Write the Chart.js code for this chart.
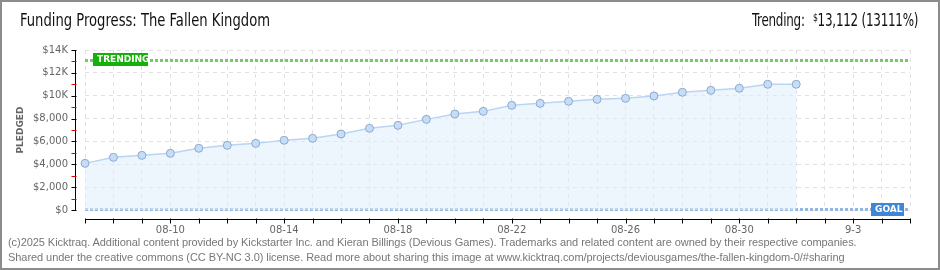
<!DOCTYPE html>
<html>
<head>
<meta charset="utf-8">
<script src="https://cdn.jsdelivr.net/npm/chart.js@4.4.1/dist/chart.umd.min.js"></script>
<style>
  html, body { margin: 0; padding: 0; background: #fff; }
  #wrap { position: relative; width: 940px; height: 270px; overflow: hidden; }
  #frame { position: absolute; left: 0; top: 0; width: 936px; height: 266px; border: 2px solid #8c8c8c; pointer-events: none; }
  canvas { position: absolute; left: 0; top: 0; }
  .hdr { position: absolute; top: 10px; font-family: "DejaVu Sans Condensed", sans-serif; font-size: 17px; font-weight: 300; color: #111; white-space: nowrap; }
  #title { left: 20px; transform: scaleX(0.86); transform-origin: left top; }
  #trend { right: 22px; transform: scaleX(0.78); transform-origin: right top; letter-spacing: -0.3px; }
  #trend sup { font-size: 11px; vertical-align: 5px; margin-left: 6px; }
  .foot { position: absolute; left: 8px; font-family: "Liberation Sans", sans-serif; font-size: 11px; letter-spacing: -0.06px; color: #777; white-space: nowrap; }
</style>
</head>
<body>
<div id="wrap">
  <canvas id="fundingChart" width="940" height="270"></canvas>
  <div class="hdr" id="title">Funding Progress: The Fallen Kingdom</div>
  <div class="hdr" id="trend">Trending: <sup>$</sup>13,112 (13111%)</div>
  <div class="foot" style="top:236px">(c)2025 Kicktraq. Additional content provided by Kickstarter Inc. and Kieran Billings (Devious Games). Trademarks and related content are owned by their respective companies.</div>
  <div class="foot" style="top:251px">Shared under the creative commons (CC BY-NC 3.0) license. Read more about sharing this image at www.kicktraq.com/projects/deviousgames/the-fallen-kingdom-0/#sharing</div>
  <div id="frame"></div>
</div>
<script>
const days = ['08-07', '08-08', '08-09', '08-10', '08-11', '08-12', '08-13', '08-14', '08-15', '08-16',
              '08-17', '08-18', '08-19', '08-20', '08-21', '08-22', '08-23', '08-24', '08-25', '08-26',
              '08-27', '08-28', '08-29', '08-30', '08-31', '09-01', '09-02', '09-03', '09-04', '09-05'];
const pledged = [4080, 4610, 4780, 4960, 5400, 5660, 5830, 6100, 6270, 6650,
                 7150, 7410, 7930, 8400, 8630, 9160, 9330, 9510, 9680, 9770,
                 9980, 10300, 10470, 10650, 11000, 11000];
const tickDays = ['08-10', '08-14', '08-18', '08-22', '08-26', '08-30', '09-03'];
const tickText = ['08-10', '08-14', '08-18', '08-22', '08-26', '08-30', '9-3'];
const trending = 13112;
const goal = 100;

const pixelFont = '"DejaVu Sans", sans-serif';

// axis lines, goal / trending lines and their tags
const kickPlugin = {
  id: 'kick',
  beforeDatasetsDraw(chart) {
    const { ctx, chartArea: a, scales: { y } } = chart;
    function dashLine(val, col) {
      const py = Math.round(y.getPixelForValue(val)) + 0.5;
      ctx.save();
      ctx.strokeStyle = col;
      ctx.lineWidth = 3;
      ctx.setLineDash([3, 2]);
      ctx.beginPath();
      ctx.moveTo(a.left, py);
      ctx.lineTo(a.right, py);
      ctx.stroke();
      ctx.restore();
    }
    dashLine(trending, '#72cc62');
    dashLine(goal, '#93b6e2');
  },
  afterDraw(chart) {
    const { ctx, chartArea: a, scales: { x, y } } = chart;
    ctx.save();
    // y axis
    const ax = a.left - 9.5;
    ctx.strokeStyle = '#000';
    ctx.lineWidth = 1;
    ctx.beginPath();
    ctx.moveTo(ax, a.top);
    ctx.lineTo(ax, a.bottom + 1);
    ctx.stroke();
    for (let v = 0; v <= 14000; v += 1000) {
      const py = Math.round(y.getPixelForValue(v)) + 0.5;
      ctx.strokeStyle = v % 2000 === 0 ? '#000' : '#d00';
      ctx.beginPath();
      ctx.moveTo(ax - 4, py);
      ctx.lineTo(ax + 1, py);
      ctx.stroke();
    }
    // x axis
    const ay = a.bottom + 9.5;
    ctx.strokeStyle = '#000';
    ctx.beginPath();
    ctx.moveTo(a.left, ay);
    ctx.lineTo(a.right + 1, ay);
    ctx.stroke();
    days.forEach((d, i) => {
      const px = Math.round(x.getPixelForValue(i)) + 0.5;
      ctx.beginPath();
      ctx.moveTo(px, ay - 1);
      ctx.lineTo(px, ay + 4);
      ctx.stroke();
    });
    // tags
    function tag(text, left, top, w, bg) {
      ctx.fillStyle = bg;
      ctx.fillRect(left, top, w, 13);
      ctx.fillStyle = '#fff';
      ctx.font = 'bold 9px ' + pixelFont;
      ctx.textBaseline = 'middle';
      ctx.textAlign = 'left';
      ctx.fillText(text, left + 4, top + 7);
    }
    const ty = Math.round(y.getPixelForValue(trending));
    tag('TRENDING', a.left + 8, ty - 7, 55, '#16b00a');
    const gy = Math.round(y.getPixelForValue(goal));
    tag('GOAL', a.right - 39, gy - 6, 33, '#3d87d6');
    ctx.restore();
  }
};

new Chart(document.getElementById('fundingChart'), {
  type: 'line',
  data: {
    labels: days,
    datasets: [{
      label: 'Pledged',
      data: pledged,
      borderColor: '#b9d5f3',
      borderWidth: 1.5,
      backgroundColor: 'rgba(222, 236, 252, 0.55)',
      fill: 'origin',
      tension: 0,
      pointRadius: 4,
      pointBackgroundColor: '#c6ddf8',
      pointBorderColor: '#8ea9cc',
      pointBorderWidth: 1
    }]
  },
  options: {
    responsive: false,
    animation: false,
    layout: { padding: { left: 13, right: 30, top: 50, bottom: 0 } },
    plugins: { legend: { display: false }, tooltip: { enabled: false } },
    scales: {
      x: {
        type: 'category',
        offset: false,
        afterFit: s => { s.height = 60; },
        grid: { color: '#e2e2e2', drawTicks: false },
        border: { display: false, dash: [4, 4] },
        ticks: {
          autoSkip: false,
          maxRotation: 0,
          padding: 14,
          color: '#666',
          font: { family: pixelFont, size: 10 },
          callback: function (v) {
            const k = tickDays.indexOf(days[v]);
            return k >= 0 ? tickText[k] : '';
          }
        }
      },
      y: {
        min: 0,
        max: 14000,
        afterFit: s => { s.width = 72; },
        grid: { color: '#e2e2e2', drawTicks: false },
        border: { display: false, dash: [4, 4] },
        title: { display: true, text: 'PLEDGED', color: '#666', padding: { top: 2, bottom: 0 }, font: { family: pixelFont, size: 9, weight: 'bold' } },
        ticks: {
          stepSize: 2000,
          padding: 17,
          color: '#666',
          font: { family: pixelFont, size: 10 },
          callback: v => v >= 10000 ? '$' + (v / 1000) + 'K' : '$' + v.toLocaleString('en-US')
        }
      }
    }
  },
  plugins: [kickPlugin]
});
</script>
</body>
</html>
